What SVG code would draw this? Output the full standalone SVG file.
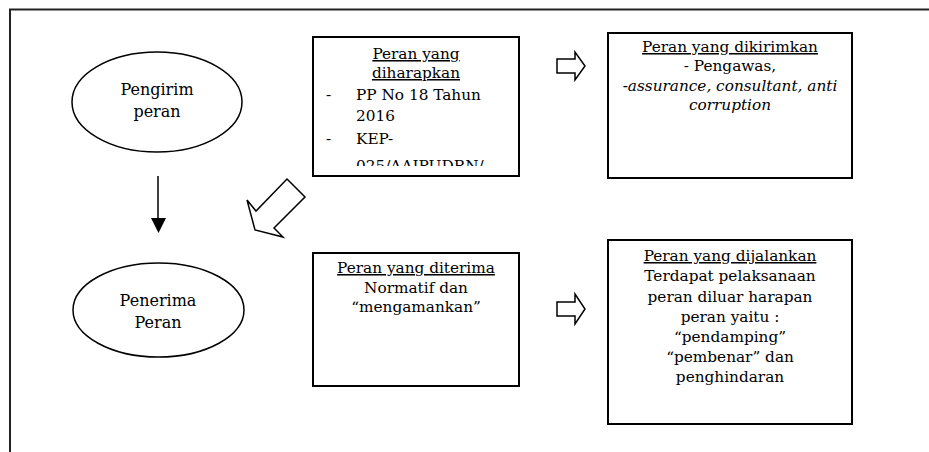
<svg xmlns="http://www.w3.org/2000/svg" width="929" height="452" viewBox="0 0 929 452">
<style>
.t{font-family:"DejaVu Serif","Liberation Serif",serif;font-size:15.3px;fill:#000}
.e{font-size:16px}
.c{text-anchor:middle}
.u{text-decoration:underline}
.i{font-style:italic}
.box{fill:#fff;stroke:#000;stroke-width:2}
.ell{fill:#fff;stroke:#000;stroke-width:1.5}
.blk{fill:#fff;stroke:#000;stroke-width:1.5;stroke-linejoin:miter}
</style>
<defs>
<clipPath id="clip1"><rect x="314" y="38" width="204" height="128"/></clipPath>
</defs>
<rect width="929" height="452" fill="#fff"/>
<g id="frame"><path d="M10,452 L10,9.5 L929,9.5" fill="none" stroke="#222" stroke-width="2"/></g>
<g id="pengirim">
<ellipse class="ell" cx="157" cy="102" rx="85" ry="50"/>
<text class="t e c" x="157" y="95">Pengirim</text>
<text class="t e c" x="157" y="117">peran</text>
</g>
<g id="penerima">
<ellipse class="ell" cx="158.5" cy="310" rx="85.5" ry="47"/>
<text class="t e c" x="158" y="306">Penerima</text>
<text class="t e c" x="158" y="328">Peran</text>
</g>
<g id="diharapkan">
<rect class="box" x="313" y="37" width="206" height="139"/>
<g clip-path="url(#clip1)">
<text class="t c u" x="416" y="59">Peran yang</text>
<text class="t c u" x="416" y="78">diharapkan</text>
<text class="t" x="326" y="100">-</text><text class="t" x="356" y="100">PP No 18 Tahun</text>
<text class="t" x="356" y="121">2016</text>
<text class="t" x="326" y="144">-</text><text class="t" x="356" y="144">KEP-</text>
<text class="t" x="356" y="171">025/AAIPUDRN/</text>
</g>
</g>
<g id="dikirimkan">
<rect class="box" x="608" y="33" width="244" height="145"/>
<text class="t c u" x="730" y="52">Peran yang dikirimkan</text>
<text class="t c" x="730" y="71">- Pengawas,</text>
<text class="t c i" x="730" y="91">-assurance, consultant, anti</text>
<text class="t c i" x="730" y="110">corruption</text>
</g>
<g id="diterima">
<rect class="box" x="313" y="253" width="206" height="133"/>
<text class="t c u" x="416" y="273">Peran yang diterima</text>
<text class="t c" x="416" y="293">Normatif dan</text>
<text class="t c" x="416" y="312">“mengamankan”</text>
</g>
<g id="dijalankan">
<rect class="box" x="608" y="240" width="244" height="184"/>
<text class="t c u" x="730" y="261">Peran yang dijalankan</text>
<text class="t c" x="730" y="281">Terdapat pelaksanaan</text>
<text class="t c" x="730" y="302">peran diluar harapan</text>
<text class="t c" x="730" y="322">peran yaitu :</text>
<text class="t c" x="730" y="342">“pendamping”</text>
<text class="t c" x="730" y="362">“pembenar” dan</text>
<text class="t c" x="730" y="382">penghindaran</text>
</g>
<g id="connectors">
<line x1="158" y1="176" x2="158" y2="219" stroke="#000" stroke-width="1.5"/>
<path d="M151,218 L166,218 L158.5,233 Z" fill="#000"/>
<path class="blk" d="M287,179 L305,197 L274,228 L283,237 L255,230 L247,200 L256,211 Z"/>
<path class="blk" d="M557,59 L575,59 L575,52 L585,66 L575,80 L575,73 L557,73 Z"/>
<path class="blk" d="M557,302 L575,302 L575,294 L585,309 L575,324 L575,316 L557,316 Z"/>
</g>
</svg>
